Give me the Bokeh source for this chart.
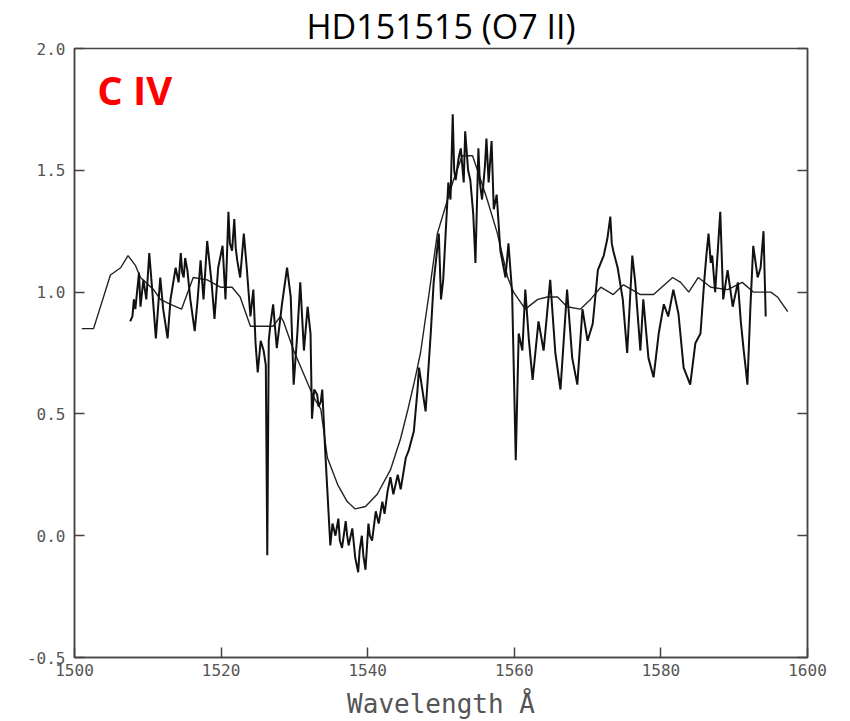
from bokeh.plotting import figure
from bokeh.models import (Range1d, LinearAxis, FixedTicker, PrintfTickFormatter, Label)
from bokeh.embed import file_html
from bokeh.resources import INLINE

# Observed spectrum (wavelength in Angstrom, normalised flux)
obs_wl = [1507.6, 1507.9, 1508.1, 1508.3, 1508.8, 1509.0, 1509.4, 1509.8, 1510.2, 1510.6,
          1511.1, 1511.7, 1512.1, 1512.7, 1513.1, 1513.8, 1514.2, 1514.5, 1514.7, 1514.9,
          1515.1, 1515.4, 1515.8, 1516.4, 1516.8, 1517.2, 1517.6, 1518.1, 1518.7, 1519.1,
          1519.6, 1520.2, 1520.6, 1521.0, 1521.2, 1521.5, 1521.8, 1522.0, 1522.2, 1522.6,
          1523.1, 1523.5, 1524.0, 1524.4, 1524.7, 1525.0, 1525.4, 1525.8, 1526.1, 1526.3,
          1526.5, 1526.7, 1527.1, 1527.6, 1528.3, 1529.0, 1529.5, 1529.9, 1530.4, 1530.8,
          1531.3, 1531.8, 1532.2, 1532.4, 1532.7, 1533.1, 1533.3, 1533.6, 1533.8, 1534.2,
          1534.9, 1535.2, 1535.6, 1536.0, 1536.2, 1536.5, 1537.0, 1537.2, 1537.4, 1537.9,
          1538.1, 1538.3, 1538.7, 1538.9, 1539.2, 1539.4, 1539.7, 1540.1, 1540.3, 1540.6,
          1541.1, 1541.5, 1542.0, 1542.3, 1542.7, 1543.1, 1543.5, 1544.1, 1544.5, 1545.2,
          1545.6, 1546.3, 1546.8, 1547.0, 1547.9, 1548.6, 1549.0, 1549.7, 1550.0, 1550.3,
          1551.0, 1551.3, 1551.6, 1551.8, 1552.0, 1552.4, 1552.7, 1553.1, 1553.3, 1553.7,
          1554.0, 1554.4, 1554.7, 1555.1, 1555.3, 1555.6, 1556.0, 1556.2, 1556.5, 1556.9,
          1557.2, 1557.6, 1558.1, 1558.8, 1559.2, 1559.7, 1560.2, 1560.6, 1561.1, 1561.5,
          1562.0, 1562.5, 1563.3, 1564.0, 1564.9, 1565.6, 1566.3, 1567.2, 1567.9, 1568.6,
          1569.3, 1570.0, 1570.7, 1571.4, 1572.2, 1572.7, 1573.1, 1573.3, 1573.5, 1574.1,
          1574.8, 1575.4, 1576.1, 1576.5, 1577.2, 1577.6, 1578.3, 1579.0, 1579.7, 1580.4,
          1581.0, 1581.7, 1582.4, 1583.1, 1584.0, 1584.7, 1585.4, 1585.9, 1586.2, 1586.5,
          1586.8, 1587.0, 1587.4, 1588.1, 1588.5, 1589.1, 1589.8, 1590.5, 1590.9, 1591.3,
          1591.6, 1591.8, 1592.2, 1592.6, 1593.2, 1593.6, 1594.0, 1594.3]
obs_flux = [0.88, 0.90, 0.97, 0.93, 1.08, 0.94, 1.05, 0.97, 1.16, 1.01,
            0.81, 1.06, 0.93, 0.81, 0.97, 1.10, 1.04, 1.16, 1.08, 1.06,
            1.14, 1.09, 0.97, 0.84, 0.97, 1.13, 0.97, 1.21, 1.04, 0.89,
            1.10, 1.19, 0.97, 1.33, 1.20, 1.17, 1.30, 1.18, 1.13, 1.06,
            1.24, 1.10, 0.90, 1.01, 0.79, 0.67, 0.80, 0.76, 0.70, -0.08,
            0.80, 0.86, 0.95, 0.77, 0.95, 1.10, 0.98, 0.62, 0.83, 1.04,
            0.76, 0.94, 0.83, 0.48, 0.60, 0.58, 0.53, 0.55, 0.60, 0.35,
            -0.04, 0.05, 0.00, 0.07, -0.02, -0.05, 0.06, 0.00, -0.04, 0.03,
            -0.03, -0.09, -0.15, -0.06, 0.00, -0.08, -0.14, 0.05, 0.00, -0.02,
            0.10, 0.05, 0.14, 0.09, 0.18, 0.24, 0.17, 0.25, 0.19, 0.32,
            0.35, 0.43, 0.60, 0.69, 0.51, 0.83, 1.04, 1.24, 0.97, 1.05,
            1.45, 1.38, 1.73, 1.50, 1.46, 1.55, 1.59, 1.45, 1.66, 1.50,
            1.46, 1.32, 1.12, 1.59, 1.45, 1.38, 1.52, 1.63, 1.45, 1.62,
            1.34, 1.40, 1.17, 1.06, 1.20, 1.00, 0.31, 0.83, 0.76, 1.01,
            0.80, 0.64, 0.88, 0.76, 1.05, 0.75, 0.60, 1.01, 0.73, 0.62,
            0.93, 0.80, 0.87, 1.09, 1.15, 1.22, 1.31, 1.20, 1.17, 1.10,
            0.97, 0.75, 1.15, 1.04, 0.76, 0.97, 0.73, 0.65, 0.83, 0.95,
            0.90, 1.01, 0.91, 0.69, 0.62, 0.79, 0.83, 1.04, 1.15, 1.24,
            1.12, 1.15, 1.00, 1.33, 0.97, 1.09, 0.94, 1.04, 0.88, 0.76,
            0.68, 0.62, 0.93, 1.19, 1.06, 1.10, 1.25, 0.90]

# Model profile
model_wl = [1501.0, 1502.6, 1504.9, 1506.3, 1507.3, 1508.3, 1509.0, 1510.8, 1511.7, 1513.1,
            1514.6, 1516.2, 1518.1, 1519.9, 1521.5, 1522.6, 1524.0, 1527.1, 1528.1, 1528.5,
            1529.9, 1532.6, 1533.6, 1534.5, 1535.9, 1537.2, 1538.3, 1539.7, 1541.3, 1543.1,
            1544.5, 1545.5, 1546.5, 1547.2, 1548.4, 1549.5, 1550.9, 1551.7, 1552.9, 1554.3,
            1555.1, 1556.3, 1557.7, 1559.1, 1559.9, 1561.5, 1563.2, 1564.5, 1565.9, 1567.2,
            1569.0, 1570.4, 1571.8, 1573.5, 1574.9, 1577.2, 1579.0, 1581.6, 1582.7, 1583.8,
            1585.1, 1586.8, 1589.1, 1591.1, 1592.6, 1595.0, 1595.9, 1597.3]
model_flux = [0.85, 0.85, 1.07, 1.10, 1.15, 1.11, 1.06, 1.01, 0.97, 0.95,
              0.93, 1.06, 1.05, 1.02, 1.02, 0.98, 0.86, 0.86, 0.90, 0.88,
              0.76, 0.57, 0.52, 0.32, 0.21, 0.14, 0.11, 0.12, 0.17, 0.27,
              0.40, 0.52, 0.65, 0.75, 1.00, 1.24, 1.38, 1.46, 1.56, 1.56,
              1.49, 1.38, 1.24, 1.06, 1.00, 0.93, 0.97, 0.98, 0.98, 0.94,
              0.93, 0.97, 1.02, 0.99, 1.03, 0.99, 0.99, 1.06, 1.04, 1.00,
              1.06, 1.02, 1.01, 1.04, 1.00, 1.00, 0.98, 0.92]

x_ticks = [1500, 1520, 1540, 1560, 1580, 1600]
y_ticks = [-0.5, 0.0, 0.5, 1.0, 1.5, 2.0]

p = figure(width=850, height=721, output_backend="svg", toolbar_location=None,
           x_range=Range1d(1500, 1600), y_range=Range1d(-0.5, 2.0),
           min_border_left=74, min_border_right=43, min_border_top=0, min_border_bottom=0,
           title="HD151515 (O7 II)")
p.background_fill_color = "white"
p.border_fill_color = "white"
p.outline_line_color = "#444444"
p.outline_line_width = 1.5
p.grid.visible = False

p.title.align = "center"
p.title.text_font = "Open Sans"
p.title.text_font_style = "normal"
p.title.text_font_size = "34px"
p.title.text_color = "black"
p.title.offset = 0
p.title.standoff = 0

tick_color = "#555555"
for ax in [p.xaxis[0], p.yaxis[0]]:
    ax.axis_line_color = "#444444"
    ax.axis_line_width = 1.5
    ax.major_tick_in = 10
    ax.major_tick_out = 0
    ax.major_tick_line_color = "#444444"
    ax.major_tick_line_width = 1.5
    ax.minor_tick_line_color = None
    ax.major_label_text_font = "DejaVu Sans Mono"
    ax.major_label_text_font_size = "16px"
    ax.major_label_text_color = tick_color

p.xaxis[0].ticker = FixedTicker(ticks=x_ticks)
p.xaxis[0].formatter = PrintfTickFormatter(format="%d")
p.xaxis[0].major_label_standoff = 6
p.xaxis[0].axis_label = "Wavelength Å"
p.xaxis[0].axis_label_text_font = "DejaVu Sans Mono"
p.xaxis[0].axis_label_text_font_size = "26px"
p.xaxis[0].axis_label_text_font_style = "normal"
p.xaxis[0].axis_label_text_color = tick_color
p.xaxis[0].axis_label_standoff = 10

p.yaxis[0].ticker = FixedTicker(ticks=y_ticks)
p.yaxis[0].formatter = PrintfTickFormatter(format="%.1f")
p.yaxis[0].major_label_standoff = 9

right = LinearAxis(ticker=FixedTicker(ticks=y_ticks), major_label_text_font_size="0px",
                   major_label_text_color=None, major_tick_in=10, major_tick_out=0,
                   minor_tick_line_color=None, axis_line_color="#444444",
                   axis_line_width=1.5, major_tick_line_color="#444444",
                   major_tick_line_width=1.5)
p.add_layout(right, "right")

p.line(model_wl, model_flux, line_color="#222222", line_width=1.4)
p.line(obs_wl, obs_flux, line_color="#111111", line_width=2.0)

p.add_layout(Label(x=1503.1, y=1.83, text="C IV", text_color="#ff0000",
                   text_font="Open Sans", text_font_style="bold", text_font_size="40px",
                   text_baseline="alphabetic", text_align="left"))

open("out.html", "w").write(file_html(p, INLINE))
